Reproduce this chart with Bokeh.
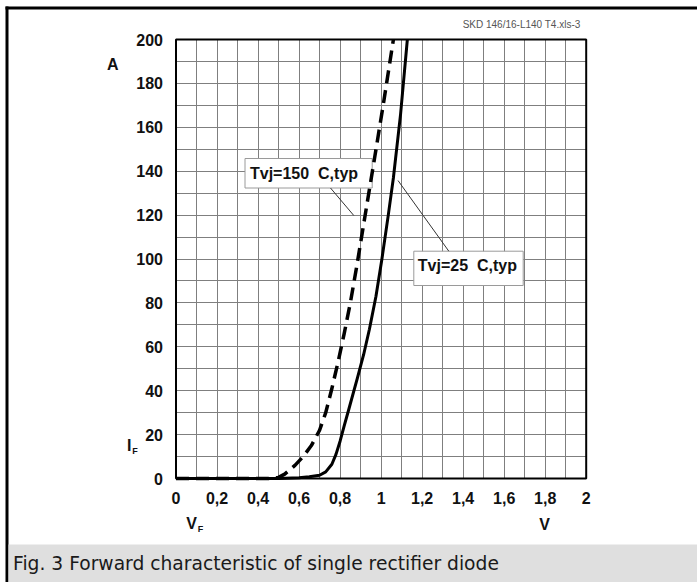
from bokeh.plotting import figure
from bokeh.models import Range1d, FixedTicker, Label, Grid
from bokeh.embed import file_html
from bokeh.resources import INLINE

# ---- data ----
vf_25 = [0.0, 0.1, 0.2, 0.3, 0.4, 0.5, 0.6, 0.65, 0.7, 0.73, 0.76, 0.78, 0.8, 0.82,
         0.844, 0.885, 0.915, 0.943, 0.975, 1.004, 1.035, 1.06, 1.095, 1.128]
if_25 = [0, 0, 0, 0, 0, 0, 0.3, 0.8, 1.5, 3, 6.5, 11, 17, 24,
         32, 46, 56.5, 68, 83, 100, 120, 137, 166, 200]

vf_150 = [0.0, 0.1, 0.2, 0.3, 0.4, 0.45, 0.5, 0.53, 0.58, 0.62, 0.66, 0.7, 0.73,
          0.76, 0.79, 0.82, 0.85, 0.88, 0.91, 0.94, 0.97, 1.01, 1.06]
if_150 = [0, 0, 0, 0, 0, 0, 0.5, 2, 6, 10, 15, 22, 30,
          41, 53, 66, 80, 96, 113, 130, 147, 170, 200]

x_ticks = [0, 0.2, 0.4, 0.6, 0.8, 1, 1.2, 1.4, 1.6, 1.8, 2]
x_labels = ["0", "0,2", "0,4", "0,6", "0,8", "1", "1,2", "1,4", "1,6", "1,8", "2"]
y_ticks = [0, 20, 40, 60, 80, 100, 120, 140, 160, 180, 200]
y_labels = ["0", "20", "40", "60", "80", "100", "120", "140", "160", "180", "200"]
x_grid = [i / 10 for i in range(21)]
y_grid = [i * 10 for i in range(21)]

label_150 = "Tvj=150\u00a0 C,typ"
label_25 = "Tvj=25\u00a0 C,typ"
file_tag = "SKD 146/16-L140 T4.xls-3"
caption = "Fig. 3 Forward characteristic of single rectifier diode"

BOLD = "Liberation Sans"

# ---- page-pixel placement of the plot area ----
W, H = 697, 582
PL, PR, PT, PB = 175.5, 585.7, 39.0, 478.0   # plot area edges in page pixels
XMIN, XMAX, YMIN, YMAX = 0.0, 2.0, 0.0, 200.0
SX = (PR - PL) / (XMAX - XMIN)
SY = (PB - PT) / (YMAX - YMIN)


def px(xp):
    return XMIN + (xp - PL) / SX


def py(yp):
    return YMIN + (PB - yp) / SY


p = figure(width=W, height=H, x_range=Range1d(px(0), px(W)), y_range=Range1d(py(H), py(0)),
           min_border=0, toolbar_location=None, output_backend="svg", title=None,
           outline_line_color=None, background_fill_color="white",
           border_fill_color="white")

# ---- axes (placed at the plot-area edges) ----
p.xaxis.fixed_location = YMIN
p.xaxis.bounds = (XMIN, XMAX)
p.yaxis.fixed_location = XMIN
p.yaxis.bounds = (YMIN, YMAX)
p.xaxis.ticker = FixedTicker(ticks=x_ticks)
p.xaxis.major_label_overrides = dict(zip(x_ticks, x_labels))
p.yaxis.ticker = FixedTicker(ticks=y_ticks)
p.yaxis.major_label_overrides = dict(zip(y_ticks, y_labels))
for ax in (p.xaxis, p.yaxis):
    ax.axis_line_color = None
    ax.major_tick_line_color = None
    ax.minor_tick_line_color = None
    ax.major_tick_out = 0
    ax.major_tick_in = 0
    ax.minor_tick_out = 0
    ax.minor_tick_in = 0
    ax.major_label_text_font = BOLD
    ax.major_label_text_font_style = "bold"
    ax.major_label_text_font_size = "16px"
    ax.major_label_text_color = "#111111"
p.xaxis.major_label_standoff = 13
p.yaxis.major_label_standoff = 13

# ---- grid limited to the plot area ----
GRID_COLOR = "#7f7f7f"
if "cross_bounds" in Grid.properties():
    p.xgrid.ticker = FixedTicker(ticks=x_grid)
    p.xgrid.bounds = (XMIN, XMAX)
    p.xgrid.cross_bounds = (YMIN, YMAX)
    p.ygrid.ticker = FixedTicker(ticks=y_grid)
    p.ygrid.bounds = (YMIN, YMAX)
    p.ygrid.cross_bounds = (XMIN, XMAX)
    p.grid.grid_line_color = GRID_COLOR
    p.grid.grid_line_width = 1
else:
    p.grid.visible = False
    p.segment(x0=x_grid, x1=x_grid, y0=[YMIN] * len(x_grid), y1=[YMAX] * len(x_grid),
              line_color=GRID_COLOR, line_width=1)
    p.segment(x0=[XMIN] * len(y_grid), x1=[XMAX] * len(y_grid), y0=y_grid, y1=y_grid,
              line_color=GRID_COLOR, line_width=1)

# ---- page decoration: top/left black rules, caption band ----
p.quad(left=[px(5)], right=[px(W)], top=[py(6)], bottom=[py(9)],
       fill_color="black", line_color=None)
p.quad(left=[px(5)], right=[px(8)], top=[py(6)], bottom=[py(H)],
       fill_color="black", line_color=None)
p.quad(left=[px(8)], right=[px(W)], top=[py(544)], bottom=[py(H)],
       fill_color="#dfdfdf", line_color=None)

# plot-area border
p.quad(left=[XMIN], right=[XMAX], bottom=[YMIN], top=[YMAX],
       fill_color=None, line_color="black", line_width=2)

# annotation boxes (under curves)
p.quad(left=[px(244.5), px(413.3)], right=[px(371.7), px(522.7)],
       top=[py(158), py(250.7)], bottom=[py(187.5), py(285)],
       fill_color="white", line_color="#9a9a9a", line_width=1)

# ---- curves ----
p.line(vf_25, if_25, line_color="black", line_width=3, line_join="round")
p.line(vf_150, if_150, line_color="black", line_width=3.5, line_dash="13 7",
       line_join="round")

# leader lines
p.segment(x0=[px(330), px(397.5)], y0=[py(187.5), py(180)],
          x1=[px(353.3), px(448.3)], y1=[py(215), py(250.7)],
          line_color="#333333", line_width=1)


def lab(xp, yp, text, size="16px", style="bold", font=BOLD, align="center",
        color="#111111"):
    p.add_layout(Label(x=px(xp), y=py(yp), text=text, text_font=font,
                       text_font_style=style, text_font_size=size, text_align=align,
                       text_baseline="middle", text_color=color))


lab(249.5, 172.8, label_150, align="left")
lab(417.3, 265.0, label_25, align="left")
lab(112.3, 64.3, "A")
lab(128.7, 445.2, "I")
lab(134.6, 450.0, "F", size="9px")
lab(191.2, 523.0, "V")
lab(200.0, 528.5, "F", size="9px")
lab(544.2, 524.2, "V")
lab(580.0, 23.5, file_tag, size="10px", style="normal", align="right", font="Liberation Sans",
    color="#555555")
lab(12.5, 563.0, caption, size="18.7px", style="normal", font="DejaVu Sans", align="left",
    color="#1a1a1a")

open("out.html", "w").write(file_html(p, INLINE))
